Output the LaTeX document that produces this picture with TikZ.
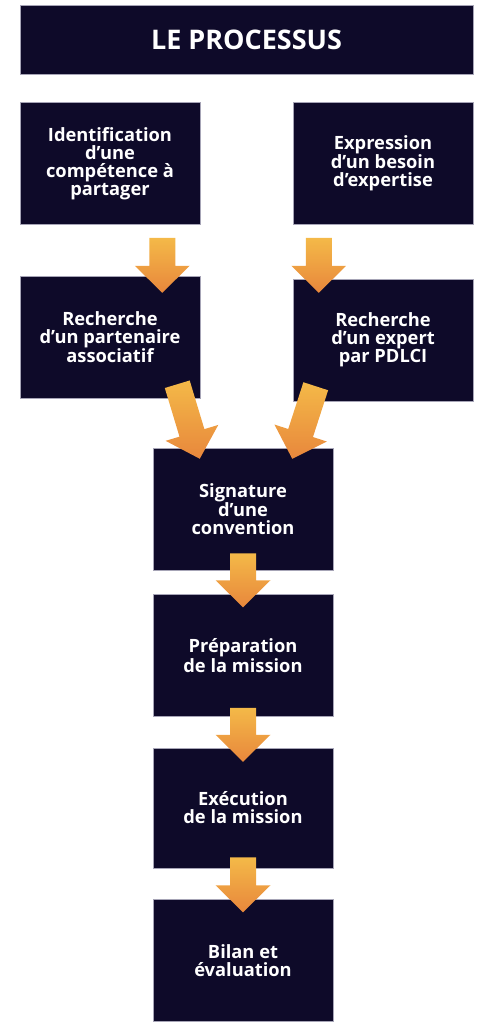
\documentclass[tikz,border=0pt]{standalone}
\usepackage{fontspec}
\setmainfont{Open Sans}
\usetikzlibrary{
  positioning,
  calc
}
\definecolor{pdnavy}{HTML}{0E0A29}
\definecolor{pdedge}{HTML}{A6A4B6}
\definecolor{pdyellow}{HTML}{F4B948}
\definecolor{pdorange}{HTML}{E8873C}

\begin{document}
\begin{tikzpicture}[
      box/.style={
        rectangle, minimum width=180pt, minimum height=122pt, inner sep=0pt,
        draw=pdedge, line width=0.5pt, fill=pdnavy,
        font=\fontsize{18.3}{18}\selectfont\bfseries\color{white}, align=center
      },
      headbox/.style={box, minimum width=453pt, minimum height=69pt,
        font=\fontsize{27}{30}\selectfont\bfseries\color{white}},
      fat/.style={
        top color=pdyellow, bottom color=pdorange,
        to path={
          let \p1=(\tikztostart), \p2=(\tikztotarget),
              \n1={atan2(\y2-\y1,\x2-\x1)},
              \n2={veclen(\x2-\x1,\y2-\y1)-27pt} in
          ($(\p1)+(\n1+90:13pt)$)
          -- ($(\p1)+(\n1:\n2)+(\n1+90:13pt)$)
          -- ($(\p1)+(\n1:\n2)+(\n1+90:27.5pt)$)
          -- (\p2)
          -- ($(\p1)+(\n1:\n2)+(\n1-90:27.5pt)$)
          -- ($(\p1)+(\n1:\n2)+(\n1-90:13pt)$)
          -- ($(\p1)+(\n1-90:13pt)$) -- cycle
        }
      }
    ]
      \useasboundingbox (0,0) rectangle (492pt,-1024pt);

      \node[headbox] (title) at (246.5pt,-39.5pt) {LE PROCESSUS};

      \node[box, below right=28pt and 0pt of title.south west] (ident)
        {Identification\\d’une\\compétence à\\partager};
      \node[box, below left=28pt and 0pt of title.south east] (expr)
        {Expression\\d’un besoin\\d’expertise};
      \node[box, below=51pt of ident] (rechA)
        {Recherche\\d’un partenaire\\associatif};
      \node[box, below=54pt of expr] (rechE)
        {Recherche\\d’un expert\\par PDLCI};

      \node[box] (sign) at (243pt,-509pt) {Signature\\d’une\\convention};
      \node[box, below=24pt of sign] (prep) {Préparation\\de la mission};
      \node[box, below=31pt of prep, minimum height=120pt] (exec)
        {Exécution\\de la mission};
      \node[box, below=31pt of exec] (bilan) {Bilan et\\évaluation};

      % arrows
      \shade[fat] ($(ident.south east)+(-38pt,-13pt)$) to ($(rechA.north east)+(-38pt,-17pt)$);
      \shade[fat] ($(expr.south west)+(26pt,-13pt)$) to ($(rechE.north west)+(26pt,-14pt)$);
      \shade[fat] ($(rechA.south east)+(-23pt,14pt)$) to ($(sign.north west)+(47pt,-11pt)$);
      \shade[fat] ($(rechE.south west)+(23pt,15pt)$) to ($(sign.north east)+(-41pt,-11pt)$);
      \shade[fat] ($(sign.south)+(0,17pt)$) to ($(prep.north)+(0,-13pt)$);
      \shade[fat] ($(prep.south)+(0,9pt)$) to ($(exec.north)+(0,-14pt)$);
      \shade[fat] ($(exec.south)+(0,11pt)$) to ($(bilan.north)+(0,-13pt)$);
    \end{tikzpicture}
\end{document}
